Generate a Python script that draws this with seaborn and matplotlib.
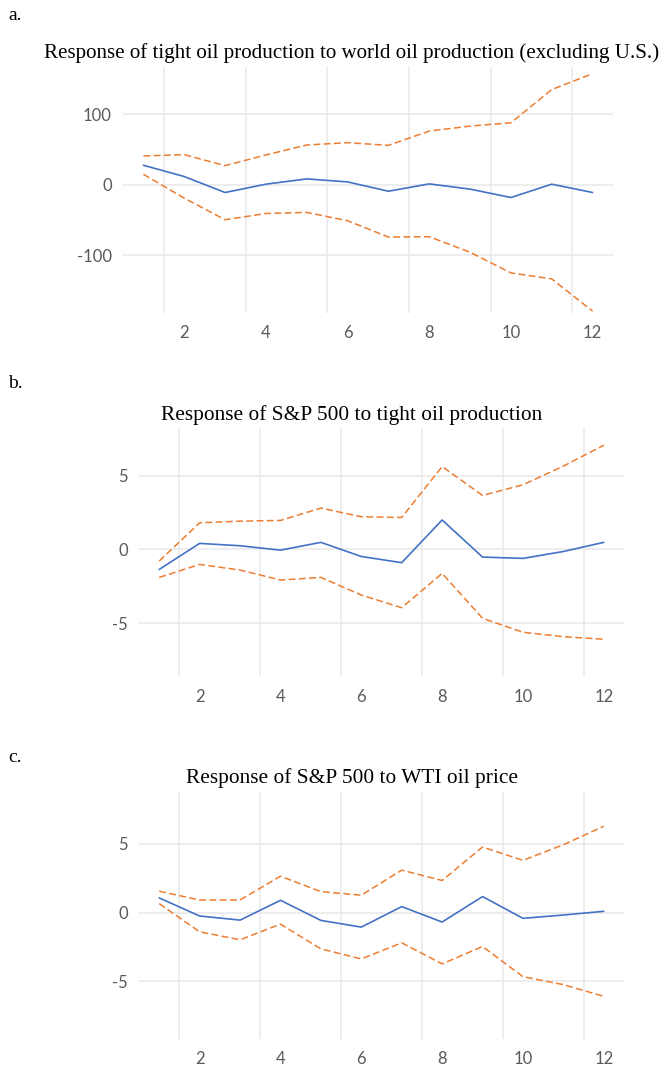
import numpy as np
import pandas as pd
import matplotlib
matplotlib.use("Agg")
import matplotlib.pyplot as plt
import seaborn as sns

periods = list(range(1, 13))

# Panel a: tight oil production response to world oil production (excl. U.S.)
a_resp = [27.8, 11.8, -10.8, 1.0, 8.5, 4.2, -9.0, 1.4, -6.0, -17.9, 1.0, -10.8]
a_upper = [41.0, 42.8, 27.3, 42.4, 56.5, 59.8, 56.0, 76.2, 83.3, 88.0, 135.0, 157.6]
a_lower = [15.0, -18.8, -49.4, -40.5, -39.0, -50.8, -73.9, -73.4, -95.5, -124.7, -133.2, -178.8]

# Panel b: S&P 500 response to tight oil production
b_resp = [-1.36, 0.41, 0.25, -0.05, 0.48, -0.48, -0.90, 2.00, -0.52, -0.61, -0.14, 0.48]
b_upper = [-0.79, 1.81, 1.92, 1.97, 2.81, 2.22, 2.17, 5.63, 3.67, 4.39, 5.66, 7.08]
b_lower = [-1.90, -1.02, -1.40, -2.08, -1.90, -3.10, -3.96, -1.63, -4.68, -5.63, -5.93, -6.10]

# Panel c: S&P 500 response to WTI oil price
c_resp = [1.07, -0.24, -0.54, 0.90, -0.56, -1.05, 0.44, -0.68, 1.17, -0.41, -0.17, 0.10]
c_upper = [1.56, 0.92, 0.92, 2.65, 1.53, 1.27, 3.09, 2.34, 4.77, 3.80, 4.94, 6.28]
c_lower = [0.66, -1.39, -1.97, -0.83, -2.63, -3.36, -2.19, -3.72, -2.46, -4.65, -5.23, -6.08]

titles = [
    "Response of tight oil production to world oil production (excluding U.S.)",
    "Response of S&P 500 to tight oil production",
    "Response of S&P 500 to WTI oil price",
]
panel_labels = ["a.", "b.", "c."]
y_ticks = [[-100, 0, 100], [-5, 0, 5], [-5, 0, 5]]
y_tick_labels = [["-100", "0", "100"], ["-5", "0", "5"], ["-5", "0", "5"]]
x_ticks = [2, 4, 6, 8, 10, 12]
x_tick_labels = ["2", "4", "6", "8", "10", "12"]

series = [(a_resp, a_upper, a_lower), (b_resp, b_upper, b_lower), (c_resp, c_upper, c_lower)]

sns.set_theme(style="white")
plt.rcParams["font.family"] = ["Lato", "DejaVu Sans"]

W, H = 668, 1068
fig = plt.figure(figsize=(W / 100, H / 100), dpi=100)

# axes boxes in pixels: left, right, top, bottom
boxes = [(123, 613, 67, 313), (139, 624, 428, 676), (139, 624, 792, 1039)]
ylims = [(-181.5, 167.0), (-8.6, 8.25), (-9.18, 8.77)]
title_y = [53, 415, 778]
title_width = [619, 381, 333]
label_y = [15, 383, 758]

BLUE = "#4472C4"
ORANGE = "#ED7D31"
GRID = "#E8E8E8"
TICK = "#595959"

fig.canvas.draw()
renderer = fig.canvas.get_renderer()

for i, (resp, up, lo) in enumerate(series):
    l, r, t, b = boxes[i]
    ax = fig.add_axes([l / W, 1 - b / H, (r - l) / W, (b - t) / H])
    df = pd.DataFrame({"period": periods, "resp": resp, "upper": up, "lower": lo})
    sns.lineplot(data=df, x="period", y="upper", ax=ax, color=ORANGE, lw=1.1,
                 linestyle=(0, (4.5, 2.2)))
    sns.lineplot(data=df, x="period", y="lower", ax=ax, color=ORANGE, lw=1.1,
                 linestyle=(0, (4.5, 2.2)))
    sns.lineplot(data=df, x="period", y="resp", ax=ax, color=BLUE, lw=1.2)

    ax.set_xlim(0.5, 12.5)
    ax.set_ylim(*ylims[i])
    ax.set_xticks(x_ticks)
    ax.set_xticklabels(x_tick_labels)
    ax.set_xticks([1.5, 3.5, 5.5, 7.5, 9.5, 11.5], minor=True)
    ax.set_yticks(y_ticks[i])
    ax.set_yticklabels(y_tick_labels[i])
    ax.grid(False)
    ax.grid(True, which="minor", axis="x", color=GRID, lw=1.1)
    ax.grid(True, which="major", axis="y", color=GRID, lw=1.1)
    ax.tick_params(axis="both", which="both", length=0, colors=TICK, labelsize=12)
    ax.tick_params(axis="x", pad=9)
    ax.tick_params(axis="y", pad=8)
    for s in ax.spines.values():
        s.set_visible(False)
    ax.set_xlabel("")
    ax.set_ylabel("")
    ax.set_axisbelow(True)
    if ax.get_legend():
        ax.get_legend().remove()

    # title, fitted to the reference width
    txt = fig.text(352 / W, 1 - title_y[i] / H, titles[i], ha="center", va="center",
                   family=["Liberation Serif", "DejaVu Serif"], fontsize=14, color="black")
    wpx = txt.get_window_extent(renderer=renderer).width
    txt.set_fontsize(14 * title_width[i] / wpx)

    fig.text(8 / W, 1 - label_y[i] / H, panel_labels[i], ha="left", va="center",
             family=["Liberation Serif", "DejaVu Serif"], fontsize=14, color="black")

fig.savefig("out.png", dpi=100, facecolor="white")
